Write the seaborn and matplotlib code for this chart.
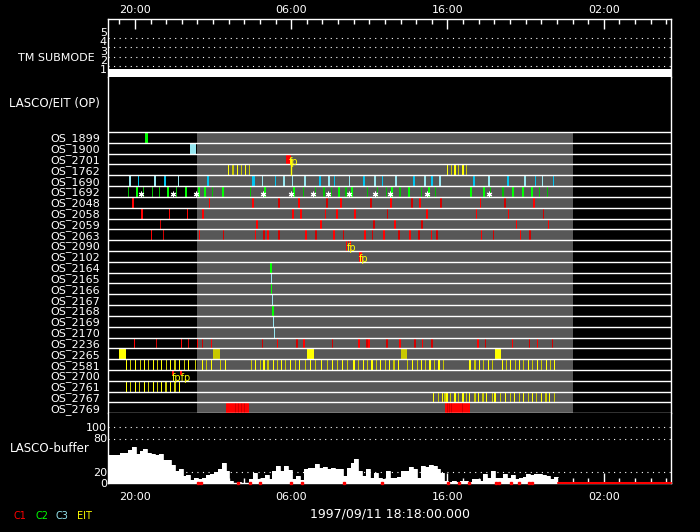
import numpy as np
import matplotlib
matplotlib.use("Agg")
import matplotlib.pyplot as plt
import seaborn as sns

sns.set_theme(style="dark", rc={
    "axes.facecolor": "black", "figure.facecolor": "black",
    "axes.edgecolor": "white", "text.color": "white",
    "xtick.color": "white", "ytick.color": "white",
    "axes.labelcolor": "white", "axes.grid": False,
})
plt.rcParams["font.family"] = ["DejaVu Sans"]

# --- time axis: hours relative to 1997/09/12 00:00 ---
t_start, t_end = -5.7, 30.3
major_ticks = [-4, 6, 16, 26]
major_labels = ["20:00", "06:00", "16:00", "02:00"]
minor_ticks = list(range(-5, 31))

# --- TM submode ---
tm_t = [-5.7, 30.3]
tm_mode = [1, 1]

# --- LASCO/EIT observing programs ---
row_names = ["OS_1899", "OS_1900", "OS_2701", "OS_1762", "OS_1690", "OS_1692",
             "OS_2048", "OS_2058", "OS_2059", "OS_2063", "OS_2090", "OS_2102",
             "OS_2164", "OS_2165", "OS_2166", "OS_2167", "OS_2168", "OS_2169",
             "OS_2170", "OS_2236", "OS_2265", "OS_2581", "OS_2700", "OS_2761",
             "OS_2767", "OS_2769"]
row_inst = ["C2", "C3", "C1", "EIT", "C3", "C2", "C1", "C1", "C1", "C1", "C1", "C1",
            "C2", "C3", "C2", "C3", "C2", "C3", "C3", "C1", "EIT", "EIT", "C1", "EIT",
            "EIT", "C1"]

# marks: plain number = short exposure, tuple = (time, duration, alt shade[, fraction of row])
os_1899 = [(-3.26, 0.19, 0)]
os_1900 = [(-0.30, 0.39, 0)]
os_2701 = [(5.81, 0.32, 0)]
os_1762 = [1.99, 2.28, 2.56, 2.82, 3.07, 3.31, 16.03, 16.27, 16.48, 16.71, 16.99, 17.24]
os_1690 = [(-4.34, .13, 0), (-3.79, .07, 1), (-2.74, .13, 0), (-2.10, .13, 1), (-1.23, .07, 0),
           (0.65, .13, 1), (3.59, .13, 1), (4.14, .07, 0), (4.97, .07, 1), (5.51, .13, 0),
           (6.08, .07, 0), (6.91, .13, 0), (7.83, .13, 1), (8.40, .13, 0), (8.80, .07, 1),
           (9.74, .07, 0), (10.66, .07, 1), (11.36, .07, 0), (11.87, .07, 1), (12.73, .13, 0),
           (13.86, .07, 1), (14.56, .07, 0), (15.04, .13, 1), (15.55, .13, 0), (17.67, .13, 1),
           (18.68, .13, 0), (19.87, .07, 1), (20.98, .13, 0), (21.66, .07, 1), (22.10, .07, 0),
           (22.81, .07, 1)]
os_1692 = [(-4.43, .07, 1), (-3.89, .13, 0), (-3.45, .07, 1), (-2.87, .07, 1), (-2.45, .07, 1),
           (-1.91, .13, 0), (-1.34, .07, 1), (-0.74, .13, 0), (0.09, .13, 0), (0.47, .13, 0),
           (0.94, .07, 1), (1.62, .13, 0), (3.37, .07, 1), (4.35, .13, 0), (6.21, .13, 0),
           (6.76, .07, 1), (7.53, .07, 1), (8.10, .07, 1), (8.57, .07, 1), (9.06, .13, 0),
           (9.51, .07, 1), (9.92, .13, 0), (10.91, .07, 1), (11.55, .07, 1), (12.09, .07, 1),
           (12.47, .13, 0), (12.96, .07, 1), (13.54, .13, 0), (14.35, .07, 1), (14.84, .13, 0),
           (15.26, .07, 1), (17.53, .13, 0), (18.36, .13, 0), (18.78, .07, 1), (19.55, .07, 1),
           (20.17, .13, 0), (20.81, .13, 0), (21.38, .13, 0), (21.91, .07, 1), (22.42, .07, 1)]
os_2048 = [(-4.13, .13, 0), (0.75, .07, 0), (3.54, .13, 0), (5.25, .13, 1), (6.48, .13, 0),
           (8.27, .13, 1), (9.21, .13, 0), (11.09, .13, 1), (12.37, .13, 0), (13.71, .13, 1),
           (14.24, .07, 0), (15.61, .13, 1), (18.14, .07, 0), (19.65, .13, 1), (21.55, .13, 0)]
os_2058 = [(-3.57, .13, 0), (-1.81, .07, 0), (-0.66, .07, 0), (0.36, .07, 0), (6.14, .13, 0),
           (6.63, .07, 0), (8.17, .07, 0), (8.93, .07, 0), (10.11, .13, 0), (12.19, .07, 1),
           (14.69, .07, 0), (17.88, .07, 0), (19.93, .07, 0), (22.17, .07, 1)]
os_2059 = [(-2.38, .07, 1), (3.84, .13, 0), (7.89, .13, 0), (11.30, .07, 1), (12.64, .07, 0),
           (14.39, .13, 1), (20.44, .07, 0), (22.49, .07, 0)]
os_2063 = [-2.96, -2.19, 0.11, 1.69, 3.73, 4.26, 4.52, 5.22, 6.95, 7.59, 8.74, 9.32, 10.72,
           11.23, 11.94, 12.90, 13.60, 14.18, 14.95, 15.33, 18.20, 18.97, 20.70, 21.28]
os_2090 = [9.55, 9.66, 9.81]
os_2102 = [(10.45, 0.22, 0)]
os_2164 = [4.71]
os_2165 = [4.74]
os_2166 = [4.76]
os_2167 = [4.80]
os_2168 = [(4.84, 0.10, 0)]
os_2169 = [4.88]
os_2170 = [4.93]
os_2236 = [-4.05, -2.64, -1.04, -0.57, 0.01, 0.33, 0.90, 4.14, 5.12, 6.37, 6.82, 8.67, 10.34,
           10.85, 10.98, 12.13, 12.96, 13.92, 14.43, 15.01, 17.95, 18.46, 20.18, 21.27, 21.78, 22.74]
os_2265 = [(-4.81, 0.45, 0), (1.20, 0.45, 1), (7.22, 0.44, 0), (13.20, 0.39, 1), (19.21, 0.38, 0)]
os_2581 = [-4.53, -4.26, -3.94, -3.64, -3.41, -3.13, -2.83, -2.55, -2.28, -1.98, -1.70, -1.43,
           -1.13, -0.85, -0.57, -0.15, 0.33, 0.60, 0.90, 1.50, 1.77, 3.46, 3.73, 4.01, 4.26,
           4.52, 4.86, 5.12, 5.40, 5.61, 5.97, 6.27, 6.55, 6.91, 7.23, 7.57, 7.94, 8.32, 8.64,
           8.96, 9.28, 9.60, 10.02, 10.30, 10.60, 10.88, 11.17, 11.47, 11.73, 12.03, 12.30,
           12.58, 12.88, 13.47, 13.77, 14.07, 14.35, 14.62, 14.88, 15.18, 15.46, 15.75, 17.44,
           17.76, 18.06, 18.33, 18.61, 18.89, 19.51, 19.76, 20.06, 20.34, 20.61, 20.89, 21.19,
           21.46, 21.76, 22.04, 22.34, 22.61, 22.87]
os_2700 = [(-1.55, 0.17, 0, 0.45), (-1.02, 0.13, 0, 0.45)]
os_2761 = [-4.53, -4.26, -3.98, -3.70, -3.41, -3.13, -2.83, -2.55, -2.28, -2.01, -1.70, -1.43, -1.13]
os_2767 = [15.13, 15.45, 15.71, 15.84, 15.97, 16.22, 16.48, 16.73, 16.99, 17.21, 17.38, 17.76,
           18.01, 18.27, 18.52, 18.87, 19.04, 19.42, 19.74, 20.02, 20.31, 20.59, 20.89, 21.17,
           21.45, 21.72, 22.00, 22.30, 22.55, 22.87]
os_2769 = [(2.57, 1.45, 0), (2.46, .05, 1), (2.65, .05, 1), (2.84, .05, 1), (3.03, .05, 1),
           (16.62, 1.60, 0), (15.99, .05, 1), (16.14, .05, 1), (16.27, .05, 1), (16.95, .05, 1)]

row_marks = [os_1899, os_1900, os_2701, os_1762, os_1690, os_1692, os_2048, os_2058, os_2059,
             os_2063, os_2090, os_2102, os_2164, os_2165, os_2166, os_2167, os_2168, os_2169,
             os_2170, os_2236, os_2265, os_2581, os_2700, os_2761, os_2767, os_2769]

# white asterisks in OS_1692
star_t = [-3.62, -1.55, -0.10, 4.18, 6.02, 7.38, 8.34, 9.70, 11.34, 12.30, 14.67, 18.63]
# "fp" flags
fp_t = [5.84, 9.58, 10.32, -1.64]
fp_row = [2, 10, 11, 22]
fp_text = ["fp", "fp", "fp", "fpfp"]

# --- LASCO buffer (percent), 15 minute steps from 18:18 ---
buf_v = [51, 51, 51, 55, 54, 60, 64, 52, 58, 61, 55, 52, 50, 52, 41,
         42, 32, 22, 25, 13, 14, 6, 10, 7, 9, 14, 16, 20, 26, 36,
         22, 4, 1, 2, 1, 1, 8, 19, 7, 9, 14, 8, 22, 31, 22,
         31, 24, 8, 13, 6, 25, 28, 28, 34, 28, 30, 25, 27, 25, 25,
         13, 28, 37, 44, 22, 13, 25, 10, 19, 10, 7, 22, 10, 10, 12,
         22, 22, 30, 25, 10, 31, 30, 32, 31, 26, 19, 4, 3, 4, 3,
         5, 4, 3, 8, 8, 5, 16, 10, 22, 10, 10, 16, 10, 14, 8,
         10, 12, 16, 14, 16, 16, 15, 13, 7, 12]
buf_zero_t = [0.04, 0.26, 2.57, 3.36, 4.0, 6.0, 6.7, 9.38, 11.83, 16.03, 16.73, 17.37,
              19.13, 19.3, 20.04, 20.57, 21.2, 21.42]

inst_colors = {"C1": ("#ff0000", "#d00000"), "C2": ("#00ff00", "#00c000"),
               "C3": ("#96e6f0", "#00c4f0"), "EIT": ("#ffff00", "#c8c800")}
GRAY = "#575757"
THIN = 0.07
W, H = 700, 532
L, R = 108.3, 671

fig = plt.figure(figsize=(7, 5.32), dpi=100)

def make_ax(top, bottom):
    return fig.add_axes([L / W, 1 - bottom / H, (R - L) / W, (bottom - top) / H])

ax_tm = make_ax(19, 77)
ax_os = make_ax(77, 413.3)
ax_buf = make_ax(413.3, 483.3)

for ax in (ax_tm, ax_os, ax_buf):
    ax.set_xlim(t_start, t_end)
    ax.set_facecolor("black")
    for s in ax.spines.values():
        s.set_color("white")
        s.set_linewidth(1)
    ax.spines["top"].set_visible(False)
    ax.spines["bottom"].set_visible(False)
    ax.tick_params(axis="x", which="both", bottom=False, top=False,
                   labelbottom=False, labeltop=False)

dots = dict(color="white", lw=0.8, ls=(0, (1, 4)))

# --- Plot 1: TM submode ---
ax_tm.set_ylim(0.82, 7.03)
ax_tm.fill_between(tm_t, 0.82, np.array(tm_mode) + 0.65, color="white", lw=0)
for lev in [2, 3, 4, 5]:
    ax_tm.axhline(lev, **dots)
ax_tm.spines["top"].set_visible(True)
ax_tm.set_xticks(major_ticks)
ax_tm.set_xticks(minor_ticks, minor=True)
ax_tm.set_xticklabels(major_labels)
ax_tm.tick_params(axis="x", which="both", top=True, labeltop=True, direction="in",
                  colors="white", labelsize=8, pad=3)
ax_tm.tick_params(axis="x", which="major", length=7, width=1)
ax_tm.tick_params(axis="x", which="minor", length=3.5, width=1)
ax_tm.set_yticks([1, 2, 3, 4, 5])
ax_tm.set_yticklabels(["1", "2", "3", "4", "5"])
ax_tm.tick_params(axis="y", length=0, pad=1, labelsize=8)
for lbl in ax_tm.get_yticklabels():
    lbl.set_va("bottom")

# --- Plot 2: observing programs ---
ax_os.set_ylim(26, -5.08)
ax_os.fill_between([0, 24], 0, 26, color=GRAY, lw=0, zorder=0)
for row, (inst, marks) in enumerate(zip(row_inst, row_marks)):
    ts, ds, cs, hs = [], [], [], []
    for k, m in enumerate(marks):
        if isinstance(m, tuple):
            t, d, alt = m[0], m[1], m[2]
            h = m[3] if len(m) > 3 else 1.0
        else:
            t, d, alt, h = m, THIN, k % 2, 1.0
        ts.append(t)
        ds.append(d)
        cs.append(inst_colors[inst][alt])
        hs.append(h)
    ax_os.bar(ts, hs, width=ds, bottom=row, color=cs, linewidth=0,
              antialiased=False, zorder=2)
for r in range(27):
    ax_os.axhline(r, color="white", lw=1, zorder=3)
ax_os.scatter(star_t, [5.73] * len(star_t), marker=(6, 2, 0), s=12, color="white",
              linewidths=0.8, zorder=4)
for t, r, s in zip(fp_t, fp_row, fp_text):
    ax_os.text(t, r + 0.3, s, color="yellow", fontsize=7, ha="left", va="top", zorder=5)
ax_os.vlines(5.97, 2.4, 3.95, color="yellow", lw=1, zorder=5)
ax_os.set_yticks(np.arange(26) + 0.5)
ax_os.set_yticklabels(row_names)
ax_os.tick_params(axis="y", length=0, pad=6, labelsize=8)

# --- Plot 3: LASCO buffer ---
ax_buf.set_ylim(0, 125)
buf_t = t_start + 0.25 * np.arange(len(buf_v) + 1)
buf_y = np.array(buf_v + [buf_v[-1]])
ax_buf.fill_between(buf_t, 0, buf_y, step="post", color="white", lw=0)
sns.lineplot(x=buf_t, y=buf_y, drawstyle="steps-post", color="white", lw=0.6, ax=ax_buf)
for lev in [20, 80, 100]:
    ax_buf.axhline(lev, **dots, zorder=0)
ax_buf.spines["bottom"].set_visible(True)
ax_buf.plot([buf_t[-1], t_end], [0, 0], color="red", lw=1.5, zorder=5, clip_on=False)
ax_buf.plot(buf_zero_t, [0] * len(buf_zero_t), "s", ms=1.6, color="red", zorder=5, clip_on=False)
ax_buf.set_xticks(major_ticks)
ax_buf.set_xticks(minor_ticks, minor=True)
ax_buf.set_xticklabels(major_labels)
ax_buf.tick_params(axis="x", which="both", bottom=True, labelbottom=True, direction="in",
                   colors="white", labelsize=8, pad=6)
ax_buf.tick_params(axis="x", which="major", length=7, width=1)
ax_buf.tick_params(axis="x", which="minor", length=3.5, width=1)
ax_buf.set_yticks([0, 20, 80, 100])
ax_buf.set_yticklabels(["0", "20", "80", "100"])
ax_buf.tick_params(axis="y", length=0, pad=1, labelsize=8)
ax_buf.set_xlabel("")
ax_buf.set_ylabel("")

# --- panel labels and footer ---
fig.text(95 / W, 1 - 58 / H, "TM SUBMODE", ha="right", va="center", fontsize=8)
fig.text(100 / W, 1 - 103 / H, "LASCO/EIT (OP)", ha="right", va="center", fontsize=8.5)
fig.text(90 / W, 1 - 449 / H, "LASCO-buffer", ha="right", va="center", fontsize=8.5)
fig.text(390 / W, 1 - 514 / H, "1997/09/11 18:18:00.000", ha="center", va="center", fontsize=9)
for x, name, inst in [(13, "C1", "C1"), (35, "C2", "C2"), (56, "C3", "C3"), (77, "EIT", "EIT")]:
    fig.text(x / W, 1 - 516 / H, name, color=inst_colors[inst][0], ha="left", va="center",
             fontsize=7)

fig.savefig("out.png", dpi=100, facecolor="black")
